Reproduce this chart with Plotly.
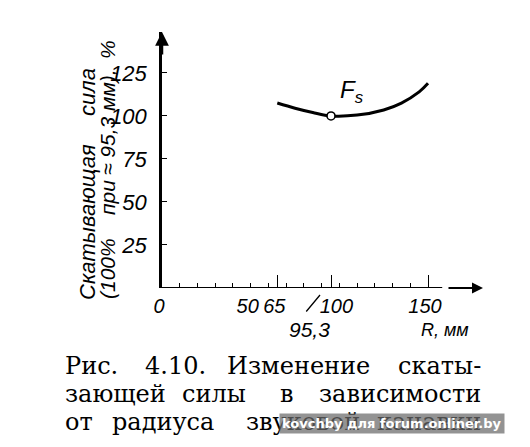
import plotly.graph_objects as go

# ---------------- data ----------------
r_mm = [65, 75, 85, 95.3, 110, 125, 135, 145, 150]
force_pct = [107.5, 104.5, 102, 100, 100.5, 103.5, 107.5, 114, 119]
ref_r = [95.3]
ref_force = [100]

y_tick_vals = [25, 50, 75, 100, 125]
y_tick_text = ["25", "50", "75", "100", "125"]
x_label_vals = [0, 50, 65, 100, 150]
x_label_text = ["0", "50", "65", "100", "150"]
x_minor_vals = [10, 20, 30, 40, 50, 60, 70, 80, 90, 100, 110, 120, 130, 140]
x_major_vals = [65, 95.3, 150]

y_title_col1 = ["Скатывающая", "сила"]
y_title_col2 = ["(100%", "при", "≈ 95,3 мм),", "%"]
caption_lines = [
    ["Рис.", "4.10.", "Изменение", "скаты-"],
    ["зающей", "силы", "в", "зависимости"],
    ["от", "радиуса", "звуковой", "канавки"],
]

# ---------------- layout geometry ----------------
W, H = 530, 447
L, R, T, B = 162, 47, 32, 159
PW, PH = W - L - R, H - T - B
X_MAX = 181.0
Y_MAX = 148.8


def px(xp):
    return (xp - L) / PW


def py(yp):
    return (H - B - yp) / PH


ITAL = dict(family="Liberation Sans, Arial", style="italic", color="black")
SERIF = dict(family="DejaVu Serif, Liberation Serif, serif", color="black", size=24)

fig = go.Figure()

fig.add_trace(go.Scatter(
    x=r_mm, y=force_pct, mode="lines",
    line=dict(color="black", width=3, shape="spline", smoothing=1.0),
    hoverinfo="skip", showlegend=False,
))
fig.add_trace(go.Scatter(
    x=ref_r, y=ref_force, mode="markers",
    marker=dict(symbol="circle", size=8, color="white", line=dict(color="black", width=1.6)),
    hoverinfo="skip", showlegend=False,
))
# dummy trace to activate the overlay axis carrying the long ticks
fig.add_trace(go.Scatter(
    x=ref_r, y=ref_force, xaxis="x2", mode="markers",
    marker=dict(opacity=0), hoverinfo="skip", showlegend=False,
))

annotations = []

# y-axis arrowhead
annotations.append(dict(x=0, y=Y_MAX, xref="x", yref="y", text="", showarrow=True,
                        ax=0, ay=24, arrowhead=2, arrowsize=1.1, arrowwidth=2.5, arrowcolor="black"))
# x-axis arrow tail (dashed-looking end)
annotations.append(dict(x=X_MAX, y=0, xref="x", yref="y", text="", showarrow=True,
                        ax=-36, ay=0, arrowhead=2, arrowsize=1.1, arrowwidth=2, arrowcolor="black"))

# 95,3 label with slanted leader
annotations.append(dict(x=px(320), y=py(295), xref="paper", yref="paper", text="", showarrow=True,
                        ax=-15, ay=18, arrowhead=0, arrowwidth=1.3, arrowcolor="black"))
annotations.append(dict(x=px(309), y=py(329), xref="paper", yref="paper", text="95,3", showarrow=False,
                        xanchor="center", yanchor="middle", font=dict(ITAL, size=21)))
annotations.append(dict(x=px(445), y=py(330), xref="paper", yref="paper", text="R, мм", showarrow=False,
                        xanchor="center", yanchor="middle", font=dict(ITAL, size=18)))

# curve label
annotations.append(dict(x=px(352), y=py(91), xref="paper", yref="paper", text="F<sub>s</sub>",
                        showarrow=False, xanchor="center", yanchor="middle", font=dict(ITAL, size=24)))

# rotated y title, word by word (justified like the original)
col1_pos = [222, 92]
col2_pos = [269, 198, 122, 50]
for w, yc in zip(y_title_col1, col1_pos):
    annotations.append(dict(x=px(87), y=py(yc), xref="paper", yref="paper", text=w, textangle=-90,
                            showarrow=False, xanchor="center", yanchor="middle", font=dict(ITAL, size=22)))
for w, yc in zip(y_title_col2, col2_pos):
    annotations.append(dict(x=px(107), y=py(yc), xref="paper", yref="paper", text=w, textangle=-90,
                            showarrow=False, xanchor="center", yanchor="middle", font=dict(ITAL, size=21)))

# caption, justified
cap_centers = [
    [None, 175, 298, None],
    [None, 214, 287, None],
    [None, 163, 303, None],
]
cap_y = [366, 394, 422]
for words, cents, yc in zip(caption_lines, cap_centers, cap_y):
    for i, (w, c) in enumerate(zip(words, cents)):
        if i == 0:
            xx, anc = 63, "left"
        elif i == len(words) - 1:
            xx, anc = 483, "right"
        else:
            xx, anc = c, "center"
        annotations.append(dict(x=px(xx), y=py(yc), xref="paper", yref="paper", text=w,
                                showarrow=False, xanchor=anc, yanchor="middle", font=SERIF))

# watermark
annotations.append(dict(x=px(392), y=py(423), xref="paper", yref="paper",
                        text="<b>kovchby для forum.onliner.by</b>", showarrow=False,
                        xanchor="center", yanchor="middle",
                        font=dict(family="DejaVu Sans, Liberation Sans", size=13, color="white"),
                        bgcolor="rgba(105,105,105,0.72)", borderpad=2))

shapes = [
    dict(type="line", xref="x", yref="y", x0=0, x1=158, y0=0, y1=0,
         line=dict(color="black", width=2.2)),
]

fig.update_layout(
    width=W, height=H,
    margin=dict(l=L, r=R, t=T, b=B, pad=0),
    paper_bgcolor="white", plot_bgcolor="white",
    showlegend=False,
    xaxis=dict(
        range=[0, X_MAX], showgrid=False, zeroline=False, showline=False,
        tickmode="array", tickvals=x_label_vals, ticktext=x_label_text,
        ticks="", tickangle=0, tickfont=dict(ITAL, size=20), ticklabelshift=-3, ticklabelstandoff=4,
        minor=dict(tickmode="array", tickvals=x_minor_vals, ticks="inside", ticklen=5,
                   tickwidth=1.3, tickcolor="black", showgrid=False),
    ),
    xaxis2=dict(
        range=[0, X_MAX], overlaying="x", anchor="y", side="bottom",
        showgrid=False, zeroline=False, showline=False, showticklabels=False,
        tickmode="array", tickvals=x_major_vals, ticks="inside", ticklen=13,
        tickwidth=1.3, tickcolor="black",
    ),
    yaxis=dict(
        range=[0, Y_MAX], showgrid=False, zeroline=False,
        showline=True, linecolor="black", linewidth=2.5,
        tickmode="array", tickvals=y_tick_vals, ticktext=y_tick_text,
        ticks="inside", ticklen=5, tickwidth=1.3, tickcolor="black",
        tickfont=dict(ITAL, size=22), ticklabelstandoff=8,
    ),
    annotations=annotations,
    shapes=shapes,
)

fig.write_html("out.html")
